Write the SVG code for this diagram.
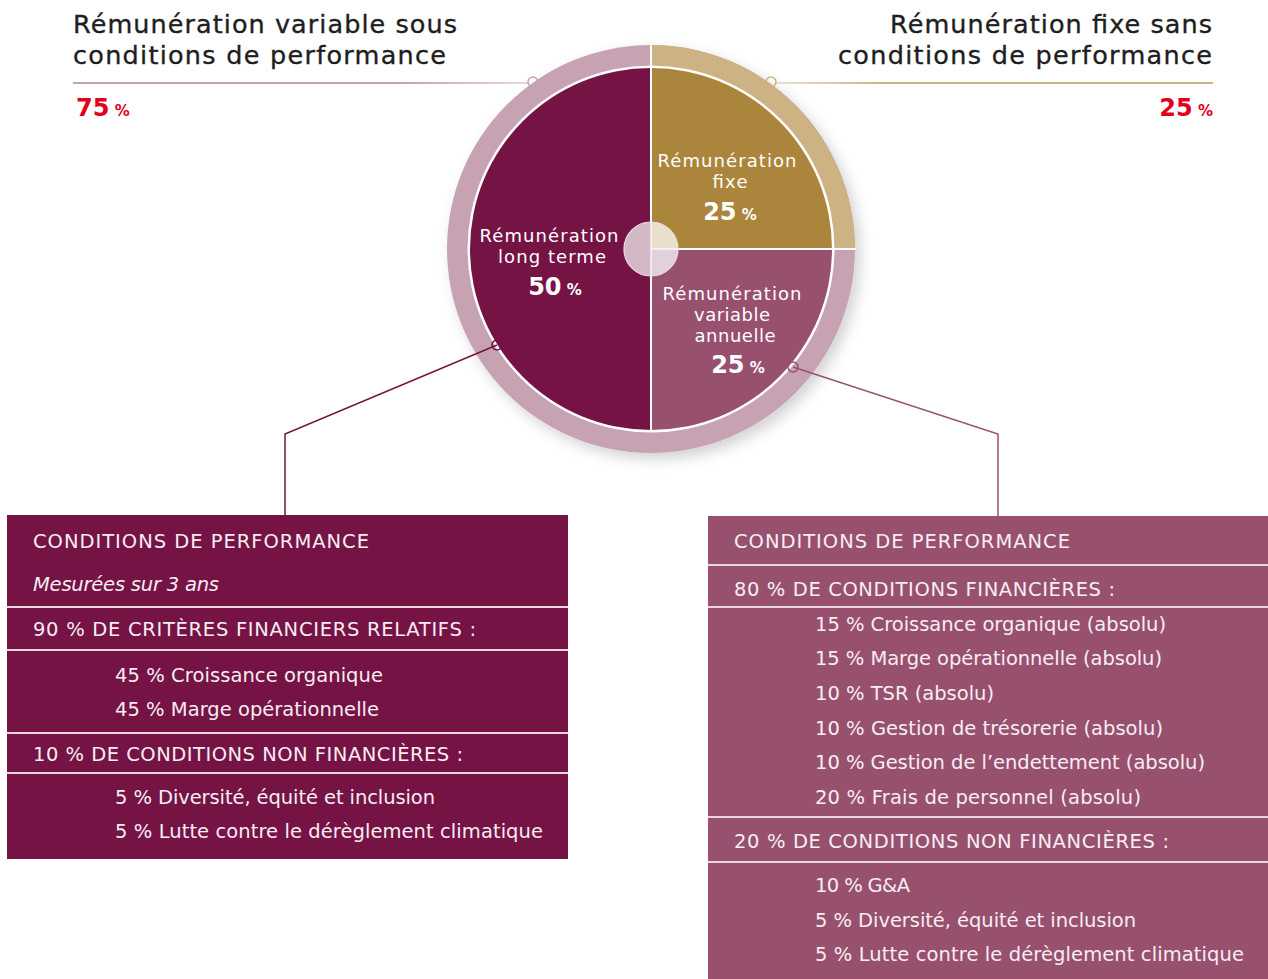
<svg xmlns="http://www.w3.org/2000/svg" width="1268" height="979" viewBox="0 0 1268 979">
<defs>
<style>
.hd{font-family:"DejaVu Sans","Liberation Sans",sans-serif;font-size:25.5px;fill:#1e1e1e;stroke:#1e1e1e;stroke-width:0.35px}
.red{font-family:"DejaVu Sans","Liberation Sans",sans-serif;fill:#e2001a}
.big{font-size:24px;font-weight:bold}
.pc{font-size:15px;font-weight:bold}
.pl{font-family:"DejaVu Sans","Liberation Sans",sans-serif;font-size:18px;fill:#ffffff;text-anchor:middle}
.pn{font-family:"DejaVu Sans","Liberation Sans",sans-serif;fill:#ffffff}
.bx{font-family:"DejaVu Sans","Liberation Sans",sans-serif;font-size:19.5px;fill:#f7edf2}
.it{font-style:italic}
.sep{stroke:#ead6df;stroke-width:2}
.wl{stroke:#ffffff;stroke-width:2}
.conn{fill:none;stroke-width:1.5}
.dot{fill:none;stroke-width:1.6}
</style>
<filter id="sh" x="-20%" y="-20%" width="140%" height="140%">
<feDropShadow dx="5" dy="6" stdDeviation="7" flood-color="#000000" flood-opacity="0.18"/>
</filter>
<linearGradient id="gl" x1="73" y1="0" x2="528" y2="0" gradientUnits="userSpaceOnUse">
<stop offset="0" stop-color="#c6a2b3"/><stop offset="0.72" stop-color="#c6a2b3"/><stop offset="1" stop-color="#e8d8e0"/>
</linearGradient>
<linearGradient id="gr" x1="777" y1="0" x2="1213" y2="0" gradientUnits="userSpaceOnUse">
<stop offset="0" stop-color="#ece2d0"/><stop offset="0.24" stop-color="#cdb384"/><stop offset="1" stop-color="#cdb384"/>
</linearGradient>
</defs>
<rect x="0" y="0" width="1268" height="979" fill="#ffffff"/>

<g id="header-left">
<text class="hd" x="73" y="33" textLength="384" lengthAdjust="spacing">Rémunération variable sous</text>
<text class="hd" x="73" y="64" textLength="373" lengthAdjust="spacing">conditions de performance</text>
<line x1="73" y1="83" x2="528" y2="83" stroke="url(#gl)" stroke-width="2"/>
<text class="red" x="76" y="116"><tspan class="big">75</tspan><tspan class="pc"> %</tspan></text>
</g>

<g id="header-right">
<text class="hd" x="890" y="33" textLength="322" lengthAdjust="spacing">Rémunération fixe sans</text>
<text class="hd" x="838" y="64" textLength="374" lengthAdjust="spacing">conditions de performance</text>
<line x1="777" y1="83" x2="1213" y2="83" stroke="url(#gr)" stroke-width="2"/>
<text class="red" x="1213" y="116" text-anchor="end"><tspan class="big">25</tspan><tspan class="pc"> %</tspan></text>
</g>

<g id="pie">
<circle cx="651" cy="249" r="204" fill="#c6a2b3" filter="url(#sh)"/>
<path d="M651,249 L651,45 A204,204 0 0 1 855,249 Z" fill="#cdb384"/>
<circle cx="651" cy="249" r="183.5" fill="#ffffff"/>
<path d="M651,249 L651,68 A181,181 0 0 0 651,430 Z" fill="#751345"/>
<path d="M651,249 L651,68 A181,181 0 0 1 832,249 Z" fill="#ab853c"/>
<path d="M651,249 L832,249 A181,181 0 0 1 651,430 Z" fill="#98506f"/>
<line class="wl" x1="651" y1="44" x2="651" y2="431"/>
<line class="wl" x1="651" y1="249" x2="856" y2="249"/>
<path d="M651,222 A27,27 0 0 0 651,276 Z" fill="#d3b9c7"/>
<path d="M651,249 L651,222 A27,27 0 0 1 678,249 Z" fill="#e9dfcc"/>
<path d="M651,249 L678,249 A27,27 0 0 1 651,276 Z" fill="#e2d0da"/>
<circle cx="651" cy="249" r="27" fill="none" stroke="#ecdde5" stroke-width="1.2"/>
<line x1="651" y1="222" x2="651" y2="276" stroke="#ffffff" stroke-width="1.2"/>
<line x1="651" y1="249" x2="678" y2="249" stroke="#ffffff" stroke-width="1.2"/>
<circle class="dot" cx="533" cy="82" r="5" stroke="#c6a2b3"/>
<circle class="dot" cx="771" cy="82" r="5" stroke="#cdb384"/>
<circle class="dot" cx="497" cy="345" r="5" stroke="#751345"/>
<circle class="dot" cx="793" cy="367" r="5" stroke="#98506f"/>
<text class="pl" x="727" y="167" textLength="139" lengthAdjust="spacing">Rémunération</text>
<text class="pl" x="730" y="188" textLength="35" lengthAdjust="spacing">fixe</text>
<text class="pn" x="730" y="220" text-anchor="middle"><tspan class="big">25</tspan><tspan class="pc"> %</tspan></text>
<text class="pl" x="549" y="242" textLength="139" lengthAdjust="spacing">Rémunération</text>
<text class="pl" x="552" y="263" textLength="108" lengthAdjust="spacing">long terme</text>
<text class="pn" x="555" y="295" text-anchor="middle"><tspan class="big">50</tspan><tspan class="pc"> %</tspan></text>
<text class="pl" x="732" y="300" textLength="139" lengthAdjust="spacing">Rémunération</text>
<text class="pl" x="732" y="321" textLength="76" lengthAdjust="spacing">variable</text>
<text class="pl" x="735" y="342" textLength="81" lengthAdjust="spacing">annuelle</text>
<text class="pn" x="738" y="373" text-anchor="middle"><tspan class="big">25</tspan><tspan class="pc"> %</tspan></text>
</g>

<g id="connectors">
<polyline class="conn" points="497,345 285,434 285,515" stroke="#751345"/>
<polyline class="conn" points="793,367 998,434 998,516" stroke="#98506f"/>
</g>

<g id="box-left">
<rect x="7" y="515" width="561" height="344" fill="#751345"/>
<line class="sep" x1="7" y1="607" x2="568" y2="607"/>
<line class="sep" x1="7" y1="650" x2="568" y2="650"/>
<line class="sep" x1="7" y1="733" x2="568" y2="733"/>
<line class="sep" x1="7" y1="773" x2="568" y2="773"/>
<text class="bx" x="33" y="548" textLength="336" lengthAdjust="spacing">CONDITIONS DE PERFORMANCE</text>
<text class="bx it" x="33" y="591" textLength="186" lengthAdjust="spacing">Mesurées sur 3 ans</text>
<text class="bx" x="33" y="636" textLength="443" lengthAdjust="spacing">90 % DE CRITÈRES FINANCIERS RELATIFS :</text>
<text class="bx" x="115" y="682" textLength="268" lengthAdjust="spacing">45 % Croissance organique</text>
<text class="bx" x="115" y="716" textLength="264" lengthAdjust="spacing">45 % Marge opérationnelle</text>
<text class="bx" x="33" y="761" textLength="430" lengthAdjust="spacing">10 % DE CONDITIONS NON FINANCIÈRES :</text>
<text class="bx" x="115" y="804" textLength="320" lengthAdjust="spacing">5 % Diversité, équité et inclusion</text>
<text class="bx" x="115" y="838" textLength="428" lengthAdjust="spacing">5 % Lutte contre le dérèglement climatique</text>
</g>

<g id="box-right">
<rect x="708" y="516" width="560" height="463" fill="#98506f"/>
<line class="sep" x1="708" y1="565" x2="1268" y2="565"/>
<line class="sep" x1="708" y1="607" x2="1268" y2="607"/>
<line class="sep" x1="708" y1="817" x2="1268" y2="817"/>
<line class="sep" x1="708" y1="862" x2="1268" y2="862"/>
<text class="bx" x="734" y="548" textLength="336" lengthAdjust="spacing">CONDITIONS DE PERFORMANCE</text>
<text class="bx" x="734" y="596" textLength="381" lengthAdjust="spacing">80 % DE CONDITIONS FINANCIÈRES :</text>
<text class="bx" x="815" y="631" textLength="351" lengthAdjust="spacing">15 % Croissance organique (absolu)</text>
<text class="bx" x="815" y="665" textLength="347" lengthAdjust="spacing">15 % Marge opérationnelle (absolu)</text>
<text class="bx" x="815" y="700" textLength="179" lengthAdjust="spacing">10 % TSR (absolu)</text>
<text class="bx" x="815" y="735" textLength="348" lengthAdjust="spacing">10 % Gestion de trésorerie (absolu)</text>
<text class="bx" x="815" y="769" textLength="390" lengthAdjust="spacing">10 % Gestion de l’endettement (absolu)</text>
<text class="bx" x="815" y="804" textLength="326" lengthAdjust="spacing">20 % Frais de personnel (absolu)</text>
<text class="bx" x="734" y="848" textLength="435" lengthAdjust="spacing">20 % DE CONDITIONS NON FINANCIÈRES :</text>
<text class="bx" x="815" y="892" textLength="95" lengthAdjust="spacing">10 % G&amp;A</text>
<text class="bx" x="815" y="927" textLength="321" lengthAdjust="spacing">5 % Diversité, équité et inclusion</text>
<text class="bx" x="815" y="961" textLength="429" lengthAdjust="spacing">5 % Lutte contre le dérèglement climatique</text>
</g>
</svg>
